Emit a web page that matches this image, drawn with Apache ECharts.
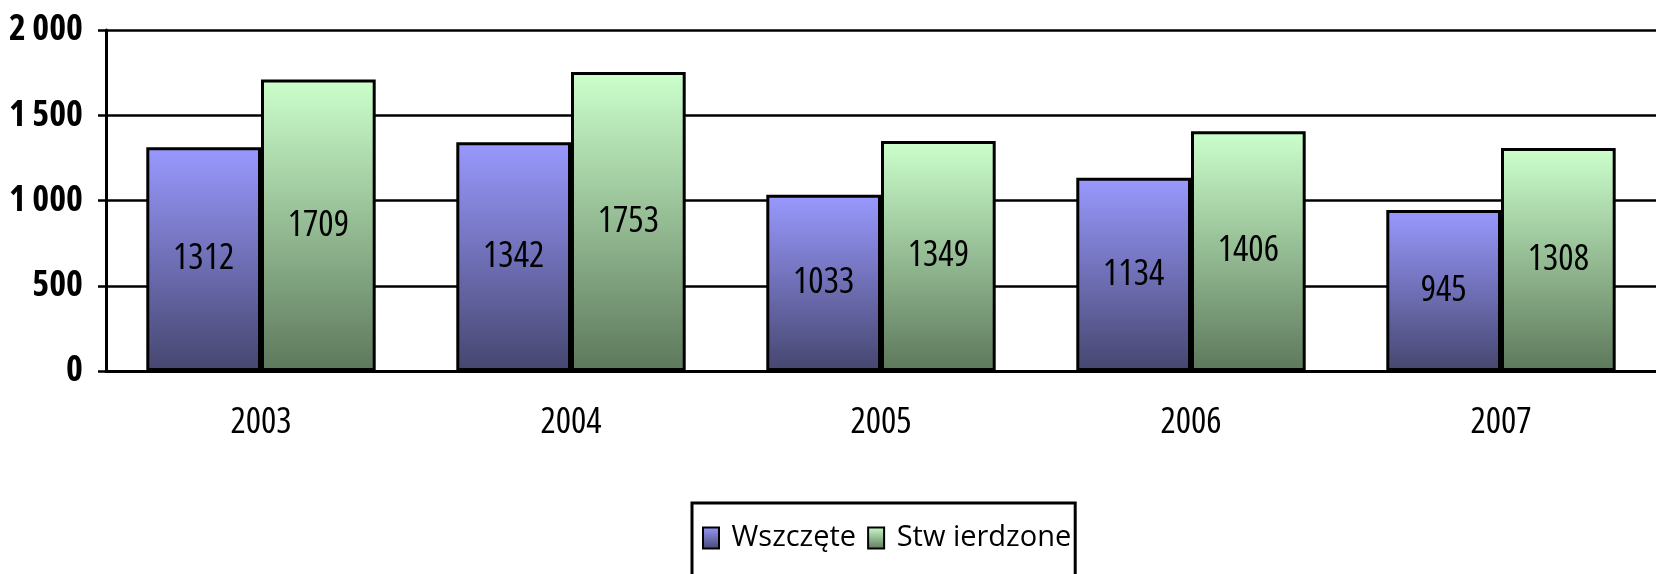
<!DOCTYPE html>
<html>
<head>
<meta charset="utf-8">
<script src="https://cdn.jsdelivr.net/npm/echarts@6/dist/echarts.min.js"></script>
<style>
  html, body { margin: 0; padding: 0; background: #fff; }
  #chart { width: 1656px; height: 574px; }
</style>
</head>
<body>
<div id="chart"></div>
<script>
// data
const years = ['2003', '2004', '2005', '2006', '2007'];
const wszczete = [1312, 1342, 1033, 1134, 945];
const stwierdzone = [1709, 1753, 1349, 1406, 1308];
const seriesNames = ['Wszczęte', 'Stw ierdzone'];

// no Arial Narrow here, Open Sans has a width axis so ask for the condensed cut
// (stretch keyword rides along in fontWeight, it ends up in the canvas font string)
const FONT = '"Open Sans", "Liberation Sans", sans-serif';
const NARROW = 'normal condensed';
const NARROW_BOLD = 'bold condensed';

function grad(top, bottom) {
  return new echarts.graphic.LinearGradient(0, 0, 0, 1, [
    { offset: 0, color: top },
    { offset: 1, color: bottom }
  ]);
}

const blue = grad('#9999ff', '#46466f');
const green = grad('#ccffcc', '#5d785b');

const labelStyle = {
  show: true,
  position: 'inside',
  color: '#000',
  fontFamily: FONT,
  fontWeight: NARROW,
  fontSize: 36
};

const chart = echarts.init(document.getElementById('chart'));
chart.setOption({
  animation: false,
  backgroundColor: '#fff',
  grid: { left: 106, top: 30, right: -6, bottom: 203 },
  legend: {
    left: 692,
    top: 503,
    orient: 'horizontal',
    padding: [20, 4, 60, 10],
    borderColor: '#000',
    borderWidth: 3,
    itemWidth: 16,
    itemHeight: 21,
    itemGap: 11,
    icon: 'rect',
    formatter: name => ' ' + name,
    textStyle: { fontFamily: FONT, fontSize: 29, lineHeight: 30, color: '#000' },
    data: seriesNames
  },
  xAxis: {
    type: 'category',
    data: years,
    axisLine: { lineStyle: { color: '#000', width: 3 } },
    axisTick: { length: 9, lineStyle: { color: '#000', width: 3 } },
    axisLabel: { margin: 34, color: '#000', fontFamily: FONT, fontWeight: NARROW, fontSize: 36 }
  },
  yAxis: {
    type: 'value',
    min: 0,
    max: 2000,
    interval: 500,
    axisLine: { show: true, lineStyle: { color: '#000', width: 3 } },
    axisTick: { show: true, length: 8, lineStyle: { color: '#000', width: 2.5 } },
    splitLine: { lineStyle: { color: '#000', width: 2.5 } },
    axisLabel: {
      margin: 23,
      color: '#000',
      fontFamily: FONT,
      fontWeight: NARROW_BOLD,
      fontSize: 36,
      formatter: v => String(v).replace(/\B(?=(\d{3})+(?!\d))/g, ' ')
    }
  },
  series: [
    {
      name: seriesNames[0],
      type: 'bar',
      data: wszczete,
      barGap: '0%',
      barCategoryGap: '26%',
      itemStyle: { color: blue, borderColor: '#000', borderWidth: 3 },
      label: labelStyle
    },
    {
      name: seriesNames[1],
      type: 'bar',
      data: stwierdzone,
      barGap: '0%',
      barCategoryGap: '26%',
      itemStyle: { color: green, borderColor: '#000', borderWidth: 3 },
      label: labelStyle
    }
  ]
});
</script>
</body>
</html>
